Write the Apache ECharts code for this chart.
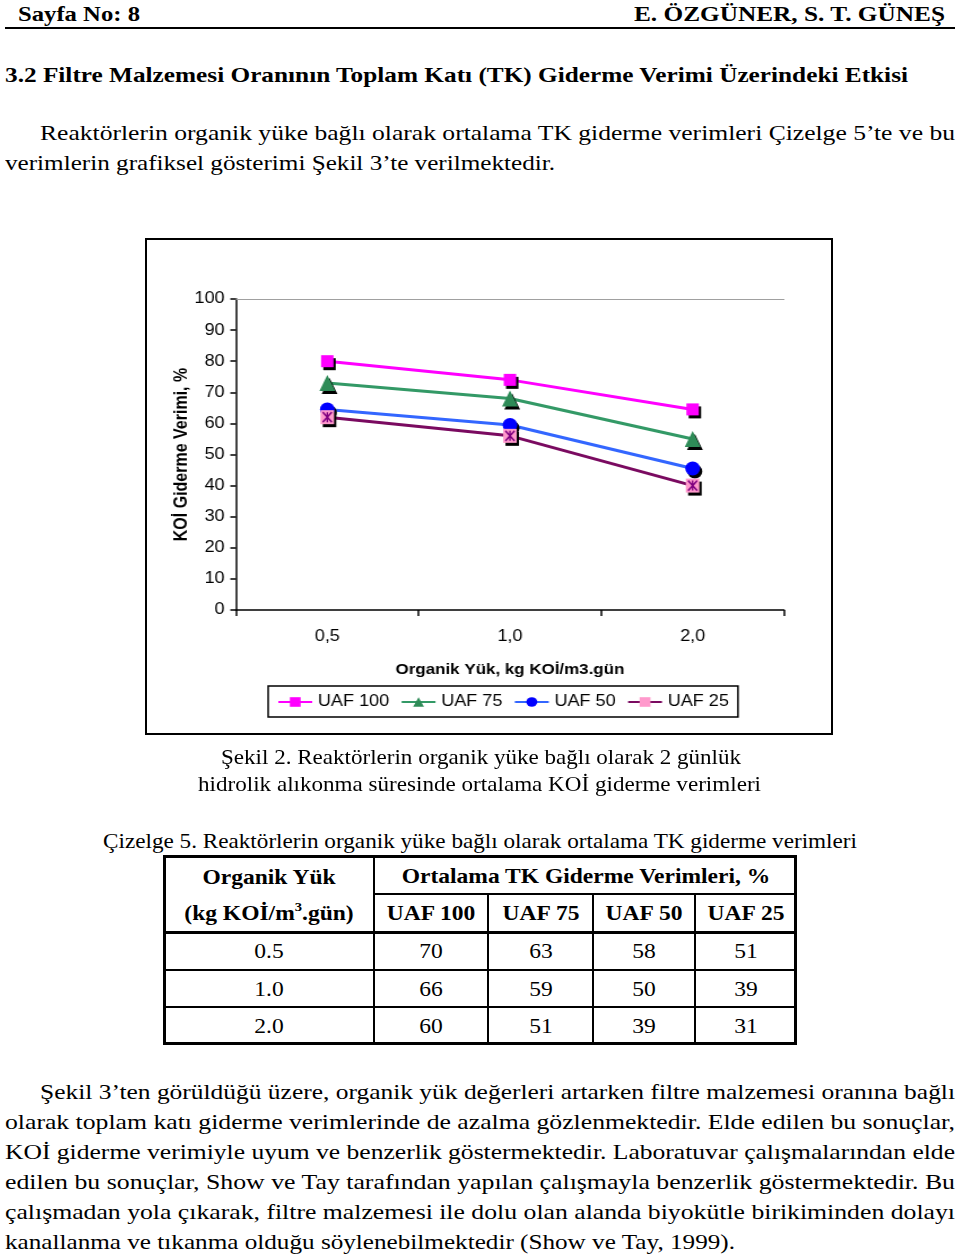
<!DOCTYPE html>
<html><head><meta charset="utf-8">
<script src="https://cdn.jsdelivr.net/npm/echarts@6/dist/echarts.min.js"></script>
<style>
html,body{margin:0;padding:0}
body{width:960px;height:1258px;background:#fff;position:relative;overflow:hidden;font-family:"Liberation Serif","Times New Roman",serif;color:#000}
.ln{position:absolute;white-space:nowrap;font-size:22px;line-height:30px;height:30px}
.ln span{display:inline-block;transform-origin:0 50%}
.b{font-weight:bold}
#chart{position:absolute;left:145px;top:238px;width:609px;height:497px;transform:scaleX(1.1297);transform-origin:0 0}
#frame{position:absolute;left:145px;top:238px;width:688px;height:497px;border:2px solid #000;box-sizing:border-box;pointer-events:none}
.tl{position:absolute;background:#000}
.tc{position:absolute;text-align:center;font-size:21px;line-height:30px;height:30px;white-space:nowrap;transform:scaleX(1.12);transform-origin:50% 50%}
</style></head>
<body>
<div class="ln b" style="left:18px;top:-1px;font-size:21px" data-w="122"><span>Sayfa No: 8</span></div>
<div class="ln b" style="left:634px;top:-1px;font-size:21px" data-w="311"><span>E. ÖZGÜNER, S. T. GÜNEŞ</span></div>
<div class="tl" style="left:5px;top:27px;width:950px;height:2px"></div>
<div class="ln b" style="left:5px;top:60px" data-w="903"><span>3.2 Filtre Malzemesi Oranının Toplam Katı (TK) Giderme Verimi Üzerindeki Etkisi</span></div>
<div class="ln" style="left:40px;top:118px" data-w="915"><span>Reaktörlerin organik yüke bağlı olarak ortalama TK giderme verimleri Çizelge 5’te ve bu</span></div>
<div class="ln" style="left:5px;top:148px" data-w="550"><span>verimlerin grafiksel gösterimi Şekil 3’te verilmektedir.</span></div>

<div id="chart"></div>
<div id="frame"></div>

<div class="ln" style="left:221px;top:742px;font-size:21px" data-w="520"><span>Şekil 2. Reaktörlerin organik yüke bağlı olarak 2 günlük</span></div>
<div class="ln" style="left:198px;top:769px;font-size:21px" data-w="563"><span>hidrolik alıkonma süresinde ortalama KOİ giderme verimleri</span></div>
<div class="ln" style="left:103px;top:826px;font-size:21px" data-w="754"><span>Çizelge 5. Reaktörlerin organik yüke bağlı olarak ortalama TK giderme verimleri</span></div>

<div id="table"></div>

<div class="ln" style="left:40px;top:1077px" data-w="915"><span>Şekil 3’ten görüldüğü üzere, organik yük değerleri artarken filtre malzemesi oranına bağlı</span></div>
<div class="ln" style="left:5px;top:1107px" data-w="950"><span>olarak toplam katı giderme verimlerinde de azalma gözlenmektedir. Elde edilen bu sonuçlar,</span></div>
<div class="ln" style="left:5px;top:1137px" data-w="950"><span>KOİ giderme verimiyle uyum ve benzerlik göstermektedir. Laboratuvar çalışmalarından elde</span></div>
<div class="ln" style="left:5px;top:1167px" data-w="950"><span>edilen bu sonuçlar, Show ve Tay tarafından yapılan çalışmayla benzerlik göstermektedir. Bu</span></div>
<div class="ln" style="left:5px;top:1197px" data-w="950"><span>çalışmadan yola çıkarak, filtre malzemesi ile dolu olan alanda biyokütle birikiminden dolayı</span></div>
<div class="ln" style="left:5px;top:1227px" data-w="730"><span>kanallanma ve tıkanma olduğu söylenebilmektedir (Show ve Tay, 1999).</span></div>

<script>
// ---- Chart data (Şekil 2) ----
const categories = ['0,5', '1,0', '2,0'];
const uaf100 = [80, 74, 64.5];
const uaf75 = [73, 68, 55];
const uaf50 = [64.5, 59.5, 45.5];
const uaf25 = [62, 56, 40];
const seriesNames = ['UAF 100', 'UAF 75', 'UAF 50', 'UAF 25'];

// ---- Table data (Çizelge 5) ----
const tableLoads = ['0.5', '1.0', '2.0'];
const tk100 = [70, 66, 60];
const tk75 = [63, 59, 51];
const tk50 = [58, 50, 39];
const tk25 = [51, 39, 31];

// fit text lines to their width in the page
document.querySelectorAll('.ln').forEach(d => {
  const w = +d.dataset.w;
  const s = d.firstElementChild;
  const nat = s.getBoundingClientRect().width;
  s.style.transform = 'scaleX(' + (w / nat) + ')';
});

// table
(function () {
  const t = document.getElementById('table');
  const X0 = 163, X1 = 797, Y0 = 855, Y1 = 1045;
  const cols = [163, 374, 488, 593, 695, 797];
  let h = '';
  const line = (l, tp, w, hh) => { h += `<div class="tl" style="left:${l}px;top:${tp}px;width:${w}px;height:${hh}px"></div>`; };
  line(X0, Y0, X1 - X0, 3); line(X0, Y1 - 3, X1 - X0, 3);
  line(X0, Y0, 3, Y1 - Y0); line(X1 - 3, Y0, 3, Y1 - Y0);
  line(373, Y0, 2, Y1 - Y0);
  line(373, 893, X1 - 373, 2);
  [487, 592, 694].forEach(x => line(x, 893, 2, Y1 - 893));
  line(X0, 931, X1 - X0, 3);
  line(X0, 969, X1 - X0, 2);
  line(X0, 1006, X1 - X0, 2);
  const cell = (cx, cy, txt, bold) => {
    h += `<div class="tc" style="left:${cx - 200}px;width:400px;top:${cy - 15}px;${bold ? 'font-weight:bold;' : ''}">${txt}</div>`;
  };
  cell((163 + 374) / 2, 877, 'Organik Yük', true);
  cell((163 + 374) / 2, 913, '(kg KOİ/m<sup style="font-size:13px;vertical-align:9px;line-height:0">3</sup>.gün)', true);
  cell((374 + 797) / 2, 876, 'Ortalama TK Giderme Verimleri, %', true);
  seriesNames.forEach((n, i) => cell((cols[i + 1] + cols[i + 2]) / 2, 913, n, true));
  const data = [tk100, tk75, tk50, tk25];
  const rc = [951, 989, 1026];
  tableLoads.forEach((ld, r) => {
    cell((163 + 374) / 2, rc[r], ld, false);
    data.forEach((arr, i) => cell((cols[i + 1] + cols[i + 2]) / 2, rc[r], arr[r], false));
  });
  t.innerHTML = h;
})();

const shadow = { shadowColor: '#000', shadowOffsetX: 2, shadowOffsetY: 3, shadowBlur: 0 };
const chart = echarts.init(document.getElementById('chart'), null, { renderer: 'canvas', width: 609, height: 497 });
chart.setOption({
  animation: false,
  textStyle: { fontFamily: 'Liberation Sans, Arial, sans-serif' },
  grid: { left: 80.5, right: 43.4, top: 61, bottom: 125, outerBoundsMode: 'none' },
  xAxis: [{
    type: 'category', data: categories, boundaryGap: true,
    axisLine: { lineStyle: { color: '#000', width: 1.5 } },
    axisTick: { show: true, length: 6, lineStyle: { color: '#000', width: 1.5 } },
    axisLabel: { color: '#000', fontSize: 16, margin: 19 },
    name: 'Organik Yük, kg KOİ/m3.gün', nameLocation: 'middle', nameGap: 52, nameMoveOverlap: false,
    nameTextStyle: { color: '#000', fontSize: 15, fontWeight: 'bold' }
  }, {
    type: 'category', data: categories, position: 'top',
    axisLine: { lineStyle: { color: '#a0a0a0', width: 1 } },
    axisTick: { show: false }, axisLabel: { show: false }
  }],
  yAxis: {
    type: 'value', min: 0, max: 100, interval: 10,
    axisLine: { show: true, lineStyle: { color: '#000', width: 1.5 } },
    axisTick: { show: true, length: 5, lineStyle: { color: '#000', width: 1.5 } },
    axisLabel: { color: '#000', fontSize: 16, margin: 10 },
    splitLine: { show: false },
    name: 'KOİ Giderme Verimi, %', nameLocation: 'middle', nameGap: 40, nameRotate: 90, nameMoveOverlap: false,
    nameTextStyle: { color: '#000', fontSize: 16, fontWeight: 'bold' }
  },
  legend: {
    left: 109, top: 448, data: seriesNames,
    itemWidth: 30, itemHeight: 12, itemGap: 10,
    borderColor: '#000', borderWidth: 1.5, padding: [8, 8, 7, 8],
    textStyle: { color: '#000', fontSize: 16, fontFamily: 'Liberation Sans' }
  },
  series: [
    { name: 'UAF 100', type: 'line', data: uaf100, symbol: 'rect', symbolSize: [11, 12],
      lineStyle: { color: '#FF00FF', width: 3 }, itemStyle: Object.assign({ color: '#FF00FF' }, shadow) },
    { name: 'UAF 75', type: 'line', data: uaf75, symbol: 'triangle', symbolSize: [14, 16],
      lineStyle: { color: '#339966', width: 3 }, itemStyle: Object.assign({ color: '#2E8B57' }, shadow) },
    { name: 'UAF 50', type: 'line', data: uaf50, symbol: 'circle', symbolSize: [13, 14],
      lineStyle: { color: '#3366FF', width: 3 }, itemStyle: Object.assign({ color: '#0000FF' }, shadow) },
    { name: 'UAF 25', type: 'line', data: uaf25, symbol: 'rect', symbolSize: [12, 14],
      lineStyle: { color: '#7A0A60', width: 3 }, itemStyle: Object.assign({ color: '#FF99CC' }, shadow) },
    { name: 'UAF 25 *', type: 'line', data: uaf25, symbol: 'path://M0,0L10,10M10,0L0,10M5,0L5,10', symbolSize: [8, 10],
      z: 5, lineStyle: { width: 0, opacity: 0 },
      itemStyle: { color: 'none', borderColor: '#800080', borderWidth: 1.5 } }
  ]
});
</script>
</body></html>
